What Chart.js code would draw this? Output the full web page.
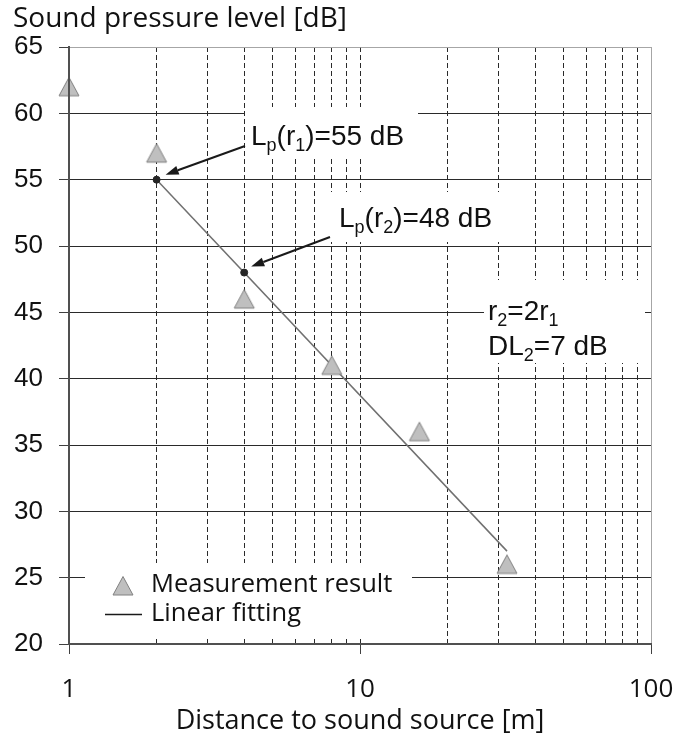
<!DOCTYPE html>
<html>
<head>
<meta charset="utf-8">
<title>Sound pressure level vs distance</title>
<script src="https://cdn.jsdelivr.net/npm/chart.js@4.4.0/dist/chart.umd.min.js"></script>
<style>
  html, body { margin: 0; padding: 0; background: #ffffff; }
  #wrap { width: 676px; height: 738px; }
</style>
</head>
<body>
<div id="wrap"><canvas id="chart" width="676" height="738"></canvas></div>
<script>
// Measurements: distance [m] and sound pressure level [dB]
const distances = [1, 2, 4, 8, 16, 32];
const measuredLevels = [62, 57, 46, 41, 36, 26];

// Linear fit (7 dB drop per doubling of distance)
const fitDistances = [2, 32];
const fitLevels = [55, 27];

// Points at r1 and r2
const markedDistances = [2, 4];
const markedLevels = [55, 48];

// Axis ticks
const xGridValues = [1, 2, 3, 4, 5, 6, 7, 8, 9, 10, 20, 30, 40, 50, 60, 70, 80, 90, 100];
const xTickLabels = [1, 10, 100];
const yTickValues = [20, 25, 30, 35, 40, 45, 50, 55, 60, 65];

const SANS = '"Open Sans", sans-serif';
const ARIAL = '"Liberation Sans", Arial, sans-serif';
const AXIS_COLOR = '#505050';

function toPoints(xs, ys) {
  return xs.map((x, i) => ({ x: x, y: ys[i] }));
}

// Grey triangle marker, centred on its bounding box
function makeTriangle() {
  const c = document.createElement('canvas');
  c.width = 24; c.height = 22;
  const g = c.getContext('2d');
  g.beginPath();
  g.moveTo(12, 1.5);
  g.lineTo(22, 20);
  g.lineTo(2, 20);
  g.closePath();
  g.fillStyle = '#bfbfbf';
  g.fill();
  g.strokeStyle = '#808080';
  g.lineWidth = 1;
  g.stroke();
  return c;
}
const triangleMarker = makeTriangle();

// Draws text with subscript runs, e.g. L_p(r_1)
function drawRich(ctx, parts, x, y, size, family) {
  let cx = x;
  parts.forEach(p => {
    const sub = !!p.sub;
    const fs = sub ? Math.round(size * 0.64) : size;
    ctx.font = fs + 'px ' + family;
    ctx.fillText(p.t, cx, sub ? y + size * 0.2 : y);
    cx += ctx.measureText(p.t).width;
  });
}

function arrow(ctx, x1, y1, x2, y2) {
  const ang = Math.atan2(y2 - y1, x2 - x1);
  const len = 13, half = 4.5;
  const bx = x2 - Math.cos(ang) * len, by = y2 - Math.sin(ang) * len;
  ctx.save();
  ctx.strokeStyle = '#1a1a1a';
  ctx.fillStyle = '#1a1a1a';
  ctx.lineWidth = 2;
  ctx.beginPath();
  ctx.moveTo(x1, y1);
  ctx.lineTo(bx, by);
  ctx.stroke();
  ctx.beginPath();
  ctx.moveTo(x2, y2);
  ctx.lineTo(bx + Math.sin(ang) * half, by - Math.cos(ang) * half);
  ctx.lineTo(bx - Math.sin(ang) * half, by + Math.cos(ang) * half);
  ctx.closePath();
  ctx.fill();
  ctx.restore();
}

// White label boxes (under the data) and the texts, arrows, legend (on top)
const labelBoxes = [
  { x: 245, y: 107, w: 173, h: 51 },
  { x: 328, y: 192, w: 177, h: 50 },
  { x: 484, y: 280, w: 161, h: 83 },
  { x: 85,  y: 563, w: 327, h: 74 }
];

const annotationPlugin = {
  id: 'annotations',
  beforeDatasetsDraw(chart) {
    const ctx = chart.ctx;
    ctx.save();
    ctx.fillStyle = '#ffffff';
    labelBoxes.forEach(b => ctx.fillRect(b.x, b.y, b.w, b.h));
    ctx.restore();
  },
  afterDatasetsDraw(chart) {
    const ctx = chart.ctx;
    const xs = chart.scales.x, ys = chart.scales.y;
    const area = chart.chartArea;
    ctx.save();

    // Vertical axis line stays on top of the first marker
    ctx.strokeStyle = AXIS_COLOR;
    ctx.lineWidth = 2;
    ctx.beginPath();
    ctx.moveTo(Math.round(area.left), area.top);
    ctx.lineTo(Math.round(area.left), area.bottom);
    ctx.stroke();

    ctx.fillStyle = '#111111';
    ctx.textBaseline = 'alphabetic';
    ctx.textAlign = 'left';

    // Axis titles
    ctx.font = '28px ' + SANS;
    ctx.fillText('Sound pressure level [dB]', 13, 27);
    ctx.font = '27px ' + SANS;
    ctx.textAlign = 'center';
    ctx.fillText('Distance to sound source [m]', (area.left + area.right) / 2, 729);
    ctx.textAlign = 'left';

    // Level annotations
    drawRich(ctx, [{t: 'L'}, {t: 'p', sub: true}, {t: '(r'}, {t: '1', sub: true}, {t: ')=55 dB'}], 251, 145, 28, ARIAL);
    drawRich(ctx, [{t: 'L'}, {t: 'p', sub: true}, {t: '(r'}, {t: '2', sub: true}, {t: ')=48 dB'}], 339, 227, 28, ARIAL);
    drawRich(ctx, [{t: 'r'}, {t: '2', sub: true}, {t: '=2r'}, {t: '1', sub: true}], 488, 320, 28, ARIAL);
    drawRich(ctx, [{t: 'DL'}, {t: '2', sub: true}, {t: '=7 dB'}], 488, 355, 28, ARIAL);

    // Arrows pointing at the marked fit points
    const p1x = xs.getPixelForValue(markedDistances[0]), p1y = ys.getPixelForValue(markedLevels[0]);
    const p2x = xs.getPixelForValue(markedDistances[1]), p2y = ys.getPixelForValue(markedLevels[1]);
    arrow(ctx, 245, 146, p1x + 9, p1y - 5);
    arrow(ctx, 330, 237, p2x + 7, p2y - 6);

    // Legend
    ctx.drawImage(triangleMarker, 123 - 12, 586 - 11);
    ctx.strokeStyle = '#1a1a1a';
    ctx.lineWidth = 1.5;
    ctx.beginPath();
    ctx.moveTo(105, 614.5);
    ctx.lineTo(142, 614.5);
    ctx.stroke();
    ctx.fillStyle = '#111111';
    ctx.font = '25.5px ' + SANS;
    ctx.textBaseline = 'middle';
    ctx.fillText('Measurement result', 151, 585);
    ctx.fillText('Linear fitting', 151, 614);
    ctx.restore();
  }
};

new Chart(document.getElementById('chart'), {
  data: {
    datasets: [
      {
        type: 'line',
        label: 'Linear fitting',
        data: toPoints(fitDistances, fitLevels),
        borderColor: '#707070',
        borderWidth: 1.5,
        pointRadius: 0,
        fill: false,
        clip: false,
        order: 2
      },
      {
        type: 'scatter',
        label: 'Fit points',
        data: toPoints(markedDistances, markedLevels),
        pointRadius: 3.5,
        backgroundColor: '#262626',
        borderColor: '#262626',
        clip: false,
        order: 1
      },
      {
        type: 'scatter',
        label: 'Measurement result',
        data: toPoints(distances, measuredLevels),
        pointStyle: triangleMarker,
        pointRadius: 11,
        clip: false,
        order: 0
      }
    ]
  },
  options: {
    responsive: false,
    animation: false,
    devicePixelRatio: 1,
    layout: { padding: { top: 47, right: 25, left: 0, bottom: 0 } },
    plugins: { legend: { display: false }, tooltip: { enabled: false } },
    scales: {
      x: {
        type: 'logarithmic',
        min: 1,
        max: 100,
        afterBuildTicks: s => { s.ticks = xGridValues.map(v => ({ value: v })); },
        afterFit: s => { s.height = 94; s.paddingLeft = 0; s.paddingRight = 0; },
        ticks: {
          autoSkip: false,
          maxRotation: 0,
          padding: 20,
          color: '#111111',
          font: { family: SANS, size: 26 },
          callback: v => (xTickLabels.includes(v) ? String(v) : '')
        },
        grid: {
          color: c => (c.tick && c.tick.value === 100 ? '#a6a6a6' : '#2a2a2a'),
          lineWidth: 1,
          tickLength: 10,
          tickColor: c => (c.tick && xTickLabels.includes(c.tick.value) ? '#404040' : 'rgba(0,0,0,0)')
        },
        border: {
          display: true,
          color: AXIS_COLOR,
          width: 2,
          dash: c => (c.tick && c.tick.value !== 100 && c.tick.value !== 1 ? [5, 3] : [])
        }
      },
      y: {
        type: 'linear',
        min: 20,
        max: 65,
        afterBuildTicks: s => { s.ticks = yTickValues.map(v => ({ value: v })); },
        afterFit: s => { s.width = 69; s.paddingTop = 0; s.paddingBottom = 0; },
        ticks: {
          padding: 16,
          color: '#111111',
          font: { family: ARIAL, size: 26 }
        },
        grid: {
          color: c => (c.tick && c.tick.value === 65 ? '#a6a6a6' : '#2a2a2a'),
          lineWidth: 1,
          tickLength: 10,
          tickColor: '#404040'
        },
        border: { display: true, color: AXIS_COLOR, width: 2 }
      }
    }
  },
  plugins: [annotationPlugin]
});
</script>
</body>
</html>
